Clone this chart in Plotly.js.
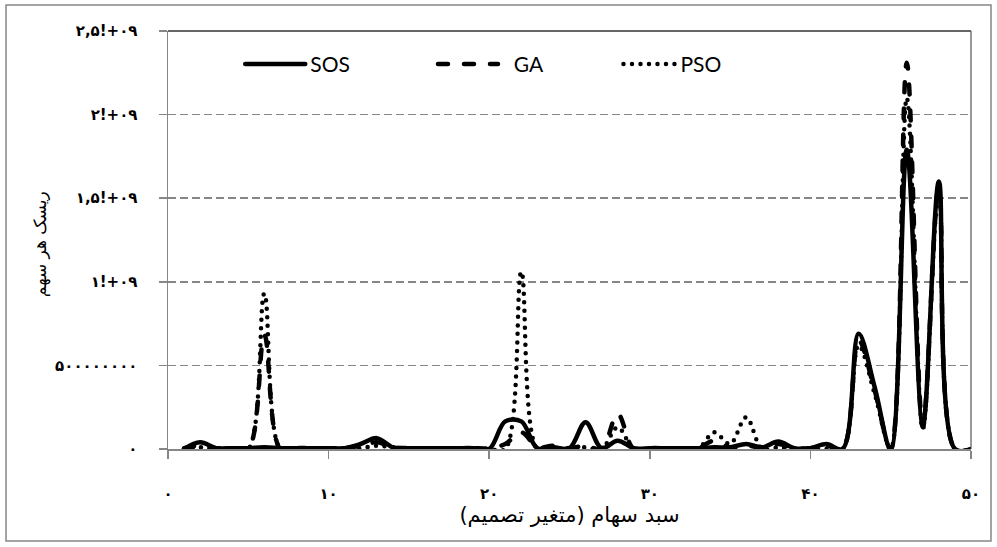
<!DOCTYPE html>
<html><head><meta charset="utf-8">
<script src="https://cdn.plot.ly/plotly-3.0.1.min.js"></script>
<style>
html,body{margin:0;padding:0;background:#fff;}
#chart{width:997px;height:547px;}
path.js-line{stroke-linecap:round;}
</style></head><body><div id="chart"></div>
<script>
const xValues = [1,2,3,4,5,6,7,8,9,10,11,12,13,14,15,16,17,18,19,20,21,22,23,24,25,26,27,28,29,30,31,32,33,34,35,36,37,38,39,40,41,42,43,44,45,46,47,48,49,50];
const sosValues = [0,4e7,5e6,5e6,5e6,1e7,5e6,5e6,5e6,5e6, 5e6,3e7,6.5e7,1e7,5e6,5e6,5e6,5e6,5e6,0, 1.65e8,1.65e8,5e6,1e7,5e6,1.6e8,5e6,5e7,5e6,5e6, 5e6,5e6,5e6,1e7,1e7,3e7,1e7,4.5e7,5e6,5e6, 3e7,0,6.9e8,3.7e8,0,1.79e9,1.4e8,1.6e9,0,0];
const gaValues = [5e6,2e7,5e6,5e6,0,6.8e8,0,5e6,5e6,5e6, 5e6,2e7,4e7,1e7,5e6,5e6,5e6,5e6,5e6,5e6, 3e7,1e8,1e7,2e7,5e6,2e7,0,2.1e8,0,5e6, 5e6,5e6,5e6,5e7,1e7,2e7,1e7,3e7,5e6,5e6, 2e7,0,6.5e8,3.5e8,0,2.31e9,1.3e8,1.57e9,0,0];
const psoValues = [0,1e7,0,0,0,9.3e8,0,5e6,5e6,5e6, 5e6,5e6,2e7,1e7,0,0,0,0,0,0, 0,1.06e9,0,5e6,5e6,1e7,0,1.3e8,0,0, 0,0,0,1e8,3e7,1.9e8,0,1e7,0,0, 0,0,6.2e8,3.3e8,0,2.1e9,1.2e8,1.55e9,0,0];
const seriesNames = ['SOS','\u00A0\u00A0GA','PSO'];
const xTickVals = [0,10,20,30,40,50];
const xTickText = ['۰','۱۰','۲۰','۳۰','۴۰','۵۰'];
const yTickVals = [0,5e8,1e9,1.5e9,2e9,2.5e9];
const yTickText = ['۰','۵۰۰۰۰۰۰۰۰','۱!+۰۹','۱,۵!+۰۹','۲!+۰۹','۲,۵!+۰۹'];
const xTitle = '\u200Fسبد سهام (متغیر تصمیم)\u200F';
const yTitle = 'ریسک هر سهم';

const lw = 4.5;
const traces = [
  {x:xValues, y:sosValues, name:seriesNames[0], legend:'legend', mode:'lines', line:{color:'#000', width:lw, shape:'spline', smoothing:1}},
  {x:xValues, y:gaValues, name:seriesNames[1], legend:'legend2', mode:'lines', line:{color:'#000', width:lw, shape:'spline', smoothing:1, dash:'10px,16px'}},
  {x:xValues, y:psoValues, name:seriesNames[2], legend:'legend3', mode:'lines', line:{color:'#000', width:lw, shape:'spline', smoothing:1, dash:'0px,8.5px'}}
];
const gray = '#868686';
const legFont = {family:'Lato, Open Sans, sans-serif', size:21, color:'#000'};
function leg(xp, iw){ return {orientation:'v', x:xp, y:0.92, xanchor:'left', yanchor:'middle', bgcolor:'rgba(0,0,0,0)', font:legFont, itemwidth:iw, borderwidth:0}; }
const layout = {
  width:997, height:547,
  margin:{l:168, r:26, t:31, b:98},
  paper_bgcolor:'#fff', plot_bgcolor:'#fff',
  showlegend:true,
  legend:leg(0.09, 60), legend2:leg(0.33, 60), legend3:leg(0.561, 52),
  xaxis:{range:[0,50], tickmode:'array', tickvals:xTickVals, ticktext:xTickText, ticks:'outside', ticklen:8, tickwidth:1.5, tickcolor:gray,
    showline:true, linecolor:gray, linewidth:1.5, showgrid:false, zeroline:false, automargin:false, ticklabelstandoff:22,
    tickfont:{family:'DejaVu Sans', size:15, color:'#000', weight:'bold'},
    title:{text:xTitle, font:{family:'DejaVu Sans', size:21, color:'#000'}, standoff:6}},
  yaxis:{range:[0,2.5e9], tickmode:'array', tickvals:yTickVals, ticktext:yTickText, ticks:'outside', ticklen:8, tickwidth:1.5, tickcolor:gray,
    showline:true, linecolor:gray, linewidth:1.5, showgrid:true, gridcolor:gray, gridwidth:1.5, griddash:'8px,4px', zeroline:false, automargin:false, ticklabelstandoff:18,
    tickfont:{family:'DejaVu Sans', size:15, color:'#000', weight:'bold'}},
  annotations:[
    {text:yTitle, xref:'paper', yref:'paper', x:-0.1594, y:0.49, xanchor:'center', yanchor:'middle', textangle:-90, showarrow:false,
     font:{family:'DejaVu Sans', size:17, color:'#000'}}
  ],
  shapes:[
    {type:'rect', xref:'paper', yref:'paper', x0:-0.2017, x1:1.0249, y0:-0.22, y1:1.0622, line:{color:gray, width:1.5}},
    {type:'line', xref:'paper', yref:'paper', x0:0, x1:1, y0:1, y1:1, line:{color:'#333', width:1.5}},
    {type:'line', xref:'paper', yref:'paper', x0:1, x1:1, y0:0, y1:1, line:{color:'#555', width:1.2}}
  ]
};
Plotly.newPlot('chart', traces, layout, {staticPlot:true, displayModeBar:false});
</script></body></html>
